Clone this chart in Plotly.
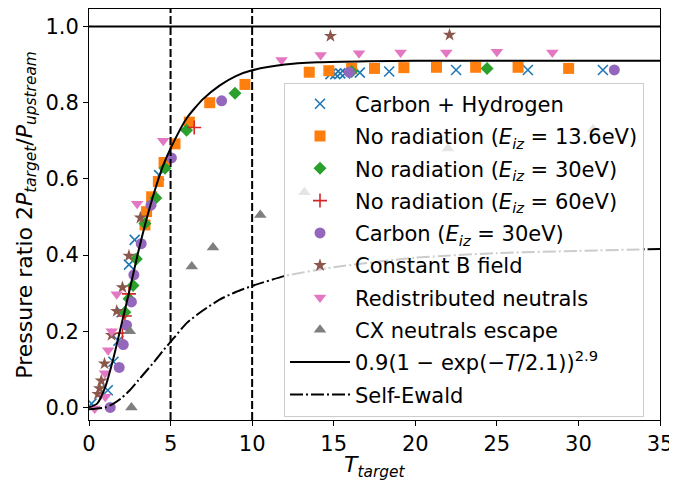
import plotly.graph_objects as go

# ---------------- data ----------------
ch_T = [0.15, 1.15, 1.5, 1.8, 2.0, 2.45, 2.8, 4.3, 14.8, 15.1, 15.4, 15.7, 16.6, 18.4, 22.5, 26.9, 31.5]
ch_P = [0.01, 0.045, 0.12, 0.175, 0.25, 0.375, 0.44, 0.61, 0.875, 0.875, 0.877, 0.877, 0.879, 0.882, 0.886, 0.886, 0.886]

nr136_T = [3.43, 3.53, 3.84, 4.25, 4.6, 5.27, 6.15, 7.4, 9.56, 13.5, 14.7, 16.1, 17.5, 19.3, 21.3, 23.7, 26.3, 29.4]
nr136_P = [0.479, 0.514, 0.553, 0.593, 0.643, 0.692, 0.749, 0.80, 0.848, 0.88, 0.884, 0.89, 0.89, 0.892, 0.893, 0.893, 0.893, 0.89]

nr30_T = [2.2, 2.45, 2.7, 2.9, 3.43, 4.1, 4.66, 5.98, 8.95, 16.1, 24.4]
nr30_P = [0.25, 0.285, 0.32, 0.39, 0.483, 0.55, 0.628, 0.728, 0.825, 0.882, 0.89]

nr60_T = [2.05, 2.2, 2.45, 6.45]
nr60_P = [0.195, 0.24, 0.298, 0.735]

c30_T = [1.3, 1.85, 2.1, 2.3, 2.6, 2.75, 3.2, 3.8, 5.05, 8.13, 15.96, 32.2]
c30_P = [0.0, 0.105, 0.165, 0.216, 0.277, 0.348, 0.43, 0.531, 0.655, 0.805, 0.88, 0.886]

cb_T = [0.55, 0.65, 0.75, 0.95, 1.38, 1.7, 2.05, 2.45, 3.15, 14.8, 22.1]
cb_P = [0.035, 0.05, 0.07, 0.115, 0.19, 0.253, 0.315, 0.398, 0.498, 0.975, 0.978]

rn_T = [0.35, 1.0, 0.98, 1.17, 1.39, 1.7, 2.95, 4.55, 11.8, 14.2, 16.55, 19.1, 21.9, 25.0, 28.4]
rn_P = [-0.003, 0.028, 0.09, 0.15, 0.2, 0.297, 0.535, 0.7, 0.912, 0.925, 0.93, 0.932, 0.932, 0.934, 0.932]

cx_T = [2.6, 2.5, 6.3, 7.6, 10.5, 13.2, 16.7, 22.0, 30.9]
cx_P = [0.0, 0.2, 0.37, 0.42, 0.505, 0.565, 0.625, 0.68, 0.73]

fit_T = [0, 0.5, 1, 1.5, 2, 2.5, 3, 3.5, 4, 4.5, 5, 6, 7, 8, 9, 10, 12, 14, 17, 20, 25, 30, 35]
fit_P = [0, 0.01, 0.054, 0.13, 0.22, 0.31, 0.405, 0.49, 0.565, 0.63, 0.68, 0.76, 0.81, 0.845, 0.87,
         0.885, 0.90, 0.906, 0.909, 0.91, 0.91, 0.91, 0.91]

se_T = [0, 1, 1.5, 2, 2.5, 3, 3.5, 4, 4.5, 5, 6, 7, 8, 9, 10, 12, 15, 20, 25, 30, 35]
se_P = [-0.005, 0.0, 0.01, 0.025, 0.045, 0.07, 0.095, 0.12, 0.147, 0.172, 0.222, 0.255, 0.283, 0.303,
        0.319, 0.345, 0.368, 0.393, 0.405, 0.411, 0.416]

vlines_T = [5, 10]
hline_P = 1.0

x_ticks = [0, 5, 10, 15, 20, 25, 30, 35]
y_ticks = [0.0, 0.2, 0.4, 0.6, 0.8, 1.0]

x_title = "<i>T</i><sub><i>target</i></sub>"
y_title = "Pressure ratio 2<i>P</i><sub><i>target</i></sub>/<i>P</i><sub><i>upstream</i></sub>"

# ---------------- figure ----------------
FONT = "DejaVu Sans"
FS = 21
fig = go.Figure()

def sc(x, y, name, symbol, color, size):
    m = dict(symbol=symbol, color=color, size=size)
    if symbol.endswith("thin"):
        m["line"] = dict(color=color, width=1.6)
    else:
        m["line"] = dict(width=0)
    fig.add_trace(go.Scatter(x=x, y=y, mode="markers", name=name, marker=m,
                             legendgroup=name))

sc(ch_T, ch_P, "Carbon + Hydrogen", "x-thin", "#1f77b4", 10)
sc(nr136_T, nr136_P, "No radiation (<i>E</i><sub><i>iz</i></sub> = 13.6eV)", "square", "#ff7f0e", 11)
sc(nr30_T, nr30_P, "No radiation (<i>E</i><sub><i>iz</i></sub> = 30eV)", "diamond", "#2ca02c", 10)
sc(nr60_T, nr60_P, "No radiation (<i>E</i><sub><i>iz</i></sub> = 60eV)", "cross-thin", "#d62728", 10)
sc(c30_T, c30_P, "Carbon (<i>E</i><sub><i>iz</i></sub> = 30eV)", "circle", "#9467bd", 11)
sc(cb_T, cb_P, "Constant B field", "star", "#8c564b", 10)
sc(rn_T, rn_P, "Redistributed neutrals", "triangle-down", "#e377c2", 11)
sc(cx_T, cx_P, "CX neutrals escape", "triangle-up", "#7f7f7f", 11)

fig.add_trace(go.Scatter(x=fit_T, y=fit_P, mode="lines",
                         name="0.9(1 − exp(−<i>T</i>/2.1))<sup>2.9</sup>",
                         line=dict(color="black", width=2, shape="spline", smoothing=0.6),
                         legendgroup="fit"))
fig.add_trace(go.Scatter(x=se_T, y=se_P, mode="lines", name="Self-Ewald",
                         line=dict(color="black", width=2, dash="13px,3px,2px,3px",
                                   shape="spline", smoothing=0.6),
                         legendgroup="se"))

for t in vlines_T:
    fig.add_vline(x=t, line=dict(color="black", width=2, dash="8px,3px"), layer="above")
fig.add_hline(y=hline_P, line=dict(color="black", width=2), layer="below")

axis_common = dict(showgrid=False, zeroline=False, showline=True, linecolor="black",
                   linewidth=1, mirror=True, ticks="outside", ticklen=5, tickwidth=1,
                   tickcolor="black", automargin=False,
                   tickfont=dict(family=FONT, size=FS, color="black"))

fig.update_xaxes(range=[0, 35], tickvals=x_ticks, ticktext=[str(v) for v in x_ticks],
                 **axis_common)
fig.update_yaxes(range=[-0.033, 1.046], tickvals=y_ticks, ticktext=[f"{v:.1f}" for v in y_ticks],
                 **axis_common)

fig.add_annotation(text=x_title, xref="paper", yref="paper", x=0.5, y=-0.112,
                   xanchor="center", yanchor="middle", showarrow=False,
                   font=dict(family=FONT, size=22, color="black"))
fig.add_annotation(text=y_title, xref="paper", yref="paper", x=-0.11, y=0.5,
                   xanchor="center", yanchor="middle", showarrow=False, textangle=-90,
                   font=dict(family=FONT, size=22, color="black"))

fig.update_layout(
    width=669, height=479,
    margin=dict(l=81, r=17, t=1, b=67),
    paper_bgcolor="white", plot_bgcolor="white",
    font=dict(family=FONT, size=FS, color="black"),
    showlegend=True,
    legend=dict(x=0.3415, y=0.821, xanchor="left", yanchor="top",
                bgcolor="rgba(255,255,255,0.8)", bordercolor="#cccccc", borderwidth=1,
                font=dict(family=FONT, size=FS, color="black"),
                tracegroupgap=2, itemwidth=60),
)

fig.write_html("out.html")
